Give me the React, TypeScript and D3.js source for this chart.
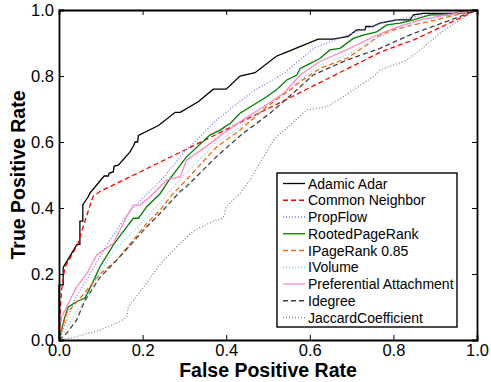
import React, { useEffect, useRef } from "react";
import * as d3 from "d3";

type Pt = [number, number]; // [false positive rate, true positive rate]

const adamicAdar: Pt[] = [
    [0, 0], [0, 0.167], [0.01, 0.167], [0.01, 0.22], [0.043, 0.29], [0.05, 0.29], [0.05, 0.36],
    [0.057, 0.36], [0.057, 0.41], [0.07, 0.434], [0.074, 0.445], [0.108, 0.497], [0.118, 0.497],
    [0.12, 0.505], [0.13, 0.51], [0.132, 0.527], [0.142, 0.53], [0.17, 0.57], [0.179, 0.59],
    [0.182, 0.6], [0.188, 0.6], [0.19, 0.62], [0.238, 0.65], [0.278, 0.69], [0.29, 0.69],
    [0.333, 0.722], [0.369, 0.76], [0.4, 0.76], [0.433, 0.8], [0.469, 0.81], [0.52, 0.86],
    [0.54, 0.87], [0.62, 0.912], [0.656, 0.912], [0.692, 0.92], [0.712, 0.94], [0.732, 0.94],
    [0.734, 0.95], [0.75, 0.95], [0.768, 0.96], [0.808, 0.97], [0.84, 0.97], [0.848, 0.985],
    [0.872, 0.99], [0.967, 0.99], [1, 1],
];
const commonNeighbor: Pt[] = [
    [0, 0.03], [0.006, 0.15], [0.014, 0.22], [0.045, 0.29], [0.062, 0.36], [0.081, 0.434],
    [0.098, 0.45], [0.3, 0.575], [0.53, 0.72], [0.77, 0.873], [0.85, 0.91], [1, 1],
];
const propFlow: Pt[] = [
    [0, 0], [0.04, 0.13], [0.07, 0.19], [0.11, 0.28], [0.16, 0.375], [0.2, 0.43], [0.245, 0.485],
    [0.3, 0.57], [0.38, 0.67], [0.46, 0.75], [0.54, 0.81], [0.61, 0.884], [0.69, 0.924],
    [0.78, 0.965], [0.85, 0.98], [0.93, 0.99], [1, 1],
];
const rootedPageRank: Pt[] = [
    [0, 0], [0.014, 0.07], [0.022, 0.1], [0.042, 0.116], [0.062, 0.127], [0.078, 0.167],
    [0.098, 0.222], [0.13, 0.288], [0.162, 0.343], [0.178, 0.369], [0.19, 0.369], [0.21, 0.404],
    [0.242, 0.444], [0.266, 0.49], [0.305, 0.555], [0.361, 0.621], [0.385, 0.636], [0.41, 0.657],
    [0.433, 0.687], [0.497, 0.737], [0.52, 0.758], [0.545, 0.788], [0.569, 0.803], [0.577, 0.823],
    [0.593, 0.833], [0.624, 0.853], [0.648, 0.879], [0.672, 0.884], [0.704, 0.914], [0.728, 0.924],
    [0.76, 0.934], [0.784, 0.955], [0.816, 0.96], [0.848, 0.97], [0.888, 0.985], [0.935, 0.985],
    [0.96, 0.995], [1, 1],
];
const iPageRank: Pt[] = [
    [0, 0], [0.018, 0.08], [0.066, 0.15], [0.098, 0.2], [0.138, 0.242], [0.178, 0.303],
    [0.21, 0.353], [0.242, 0.394], [0.273, 0.444], [0.297, 0.475], [0.377, 0.585], [0.433, 0.636],
    [0.497, 0.707], [0.553, 0.758], [0.577, 0.783], [0.624, 0.823], [0.688, 0.853], [0.736, 0.894],
    [0.768, 0.924], [0.8, 0.94], [0.848, 0.955], [0.904, 0.97], [0.95, 0.985], [1, 1],
];
const iVolume: Pt[] = [
    [0, 0], [0.03, 0.06], [0.066, 0.13], [0.1, 0.21], [0.134, 0.275], [0.178, 0.33],
    [0.21, 0.37], [0.25, 0.43], [0.3, 0.5], [0.377, 0.6], [0.44, 0.65], [0.5, 0.715],
    [0.56, 0.77], [0.62, 0.83], [0.69, 0.865], [0.76, 0.915], [0.82, 0.945], [0.9, 0.975],
    [1, 1],
];
const prefAttachment: Pt[] = [
    [0, 0.01], [0.006, 0.07], [0.018, 0.1], [0.042, 0.16], [0.066, 0.2], [0.09, 0.258],
    [0.13, 0.293], [0.162, 0.374], [0.178, 0.409], [0.194, 0.409], [0.218, 0.434], [0.258, 0.485],
    [0.29, 0.495], [0.305, 0.545], [0.345, 0.58], [0.393, 0.626], [0.44, 0.667], [0.489, 0.707],
    [0.537, 0.747], [0.577, 0.803], [0.624, 0.844], [0.688, 0.879], [0.752, 0.919], [0.8, 0.944],
    [0.864, 0.97], [0.927, 0.985], [1, 1],
];
const iDegree: Pt[] = [
    [0, 0], [0.018, 0.02], [0.042, 0.06], [0.062, 0.12], [0.098, 0.19], [0.138, 0.242],
    [0.178, 0.298], [0.21, 0.343], [0.242, 0.384], [0.29, 0.45], [0.305, 0.465], [0.377, 0.556],
    [0.44, 0.626], [0.505, 0.687], [0.553, 0.74], [0.608, 0.803], [0.688, 0.848], [0.768, 0.884],
    [0.848, 0.929], [0.927, 0.965], [1, 1],
];
const jaccard: Pt[] = [
    [0, 0], [0.042, 0.01], [0.098, 0.03], [0.146, 0.056], [0.162, 0.07], [0.166, 0.1],
    [0.202, 0.16], [0.242, 0.23], [0.29, 0.293], [0.321, 0.33], [0.369, 0.36], [0.393, 0.37],
    [0.4, 0.404], [0.433, 0.444], [0.457, 0.485], [0.513, 0.606], [0.593, 0.697], [0.64, 0.707],
    [0.68, 0.737], [0.752, 0.798], [0.768, 0.818], [0.832, 0.848], [0.864, 0.879], [0.911, 0.929],
    [0.959, 0.97], [1, 1],
];

const seriesNames = [
    "Adamic Adar", "Common Neighbor", "PropFlow", "RootedPageRank", "IPageRank 0.85",
    "IVolume", "Preferential Attachment", "Idegree", "JaccardCoefficient",
];
const seriesData = [
    adamicAdar, commonNeighbor, propFlow, rootedPageRank, iPageRank,
    iVolume, prefAttachment, iDegree, jaccard,
];
const tickValues = [0, 0.2, 0.4, 0.6, 0.8, 1.0];

const styles = [
    { color: "#000000", dash: "" },
    { color: "#ff0000", dash: "5,3" },
    { color: "#7777ff", dash: "1,2" },
    { color: "#007f00", dash: "" },
    { color: "#ff6600", dash: "5,3" },
    { color: "#88ccee", dash: "1,2" },
    { color: "#ff88c4", dash: "" },
    { color: "#444444", dash: "5,3" },
    { color: "#888888", dash: "1,2" },
];

const RocChart: React.FC = () => {
    const svgRef = useRef<SVGSVGElement | null>(null);

    useEffect(() => {
        if (!svgRef.current) return;
        const svg = d3.select(svgRef.current);
        svg.selectAll("*").remove();

        const width = 491;
        const height = 382;
        const margin = { top: 10, right: 14, bottom: 42, left: 59 };
        const font = "'Liberation Sans', Arial, Helvetica, sans-serif";

        const x = d3.scaleLinear().domain([0, 1]).range([margin.left, width - margin.right]);
        const y = d3.scaleLinear().domain([0, 1]).range([height - margin.bottom, margin.top]);

        svg.attr("width", width).attr("height", height);

        const line = d3
            .line<Pt>()
            .x((d) => x(d[0]))
            .y((d) => y(d[1]));

        // curves
        svg
            .append("g")
            .selectAll("path")
            .data(seriesData)
            .join("path")
            .attr("d", (d) => line(d))
            .attr("fill", "none")
            .attr("stroke", (_, i) => styles[i].color)
            .attr("stroke-width", 1.3)
            .attr("stroke-dasharray", (_, i) => styles[i].dash || null);

        // axes with inward ticks on all four sides
        const tickFmt = d3.format(".1f");
        svg
            .append("g")
            .attr("transform", `translate(0,${y(0)})`)
            .call(d3.axisBottom(x).tickValues(tickValues).tickSize(-5).tickPadding(4).tickFormat((d) => tickFmt(d as number)))
            .call((g) => g.selectAll("text").attr("font-size", 16.5).attr("fill", "#000").style("font-family", font));
        svg
            .append("g")
            .attr("transform", `translate(${x(0)},0)`)
            .call(d3.axisLeft(y).tickValues(tickValues).tickSize(-5).tickPadding(5).tickFormat((d) => tickFmt(d as number)))
            .call((g) => g.selectAll("text").attr("font-size", 16.5).attr("fill", "#000").style("font-family", font));
        svg
            .append("g")
            .attr("transform", `translate(0,${y(1)})`)
            .call(d3.axisTop(x).tickValues(tickValues).tickSize(-5).tickFormat(() => ""));
        svg
            .append("g")
            .attr("transform", `translate(${x(1)},0)`)
            .call(d3.axisRight(y).tickValues(tickValues).tickSize(-5).tickFormat(() => ""));
        svg.selectAll(".domain").attr("stroke-width", 1.8);
        svg.selectAll(".tick line").attr("stroke-width", 1);

        // axis titles
        svg
            .append("text")
            .attr("x", (x(0) + x(1)) / 2)
            .attr("y", height - 5)
            .attr("text-anchor", "middle")
            .attr("font-size", 19.5)
            .attr("font-weight", "bold")
            .style("font-family", font)
            .text("False Positive Rate");
        svg
            .append("text")
            .attr("transform", `translate(25,${(y(0) + y(1)) / 2}) rotate(-90)`)
            .attr("text-anchor", "middle")
            .attr("font-size", 19.5)
            .attr("font-weight", "bold")
            .style("font-family", font)
            .text("True Positive Rate");

        // legend
        const lg = svg.append("g").attr("transform", "translate(277,173)");
        lg.append("rect")
            .attr("width", 180)
            .attr("height", 154)
            .attr("fill", "#fff")
            .attr("stroke", "#000")
            .attr("stroke-width", 1.4);
        const rows = lg
            .selectAll("g.row")
            .data(seriesNames)
            .join("g")
            .attr("class", "row")
            .attr("transform", (_, i) => `translate(0,${10.5 + i * 16.75})`);
        rows.append("line")
            .attr("x1", 6)
            .attr("x2", 28)
            .attr("stroke", (_, i) => styles[i].color)
            .attr("stroke-width", 1.3)
            .attr("stroke-dasharray", (_, i) => styles[i].dash || null);
        rows.append("text")
            .attr("x", 31)
            .attr("dy", "0.36em")
            .attr("font-size", 14)
            .style("font-family", font)
            .text((d) => d);
    }, []);

    return <svg ref={svgRef} style={{ position: "absolute", left: 0, top: 0 }}></svg>;
};

export default function App() {
    return <RocChart />;
}
